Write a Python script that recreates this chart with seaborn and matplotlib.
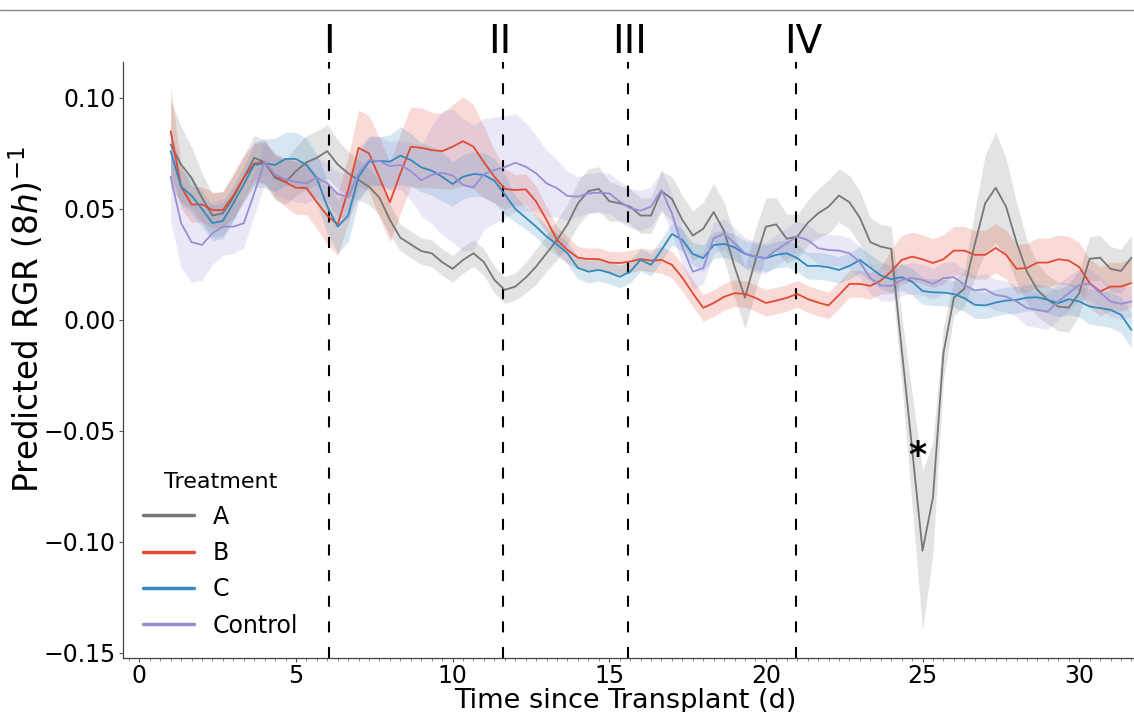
import numpy as np
import pandas as pd
import matplotlib
matplotlib.use("Agg")
import matplotlib.pyplot as plt
import seaborn as sns
from matplotlib.lines import Line2D
from matplotlib.ticker import MultipleLocator

sns.set_style("ticks")
plt.rcParams["font.family"] = ["DejaVu Sans"]
plt.rcParams["text.color"] = "black"
plt.rcParams["axes.labelcolor"] = "black"
plt.rcParams["xtick.color"] = "black"
plt.rcParams["ytick.color"] = "black"

# ---------------- data ----------------
treatments = ["A", "B", "C", "Control"]
colors = ["#777777", "#E24A33", "#348ABD", "#988ED5"]

n_points = 93
time_d = 1 + np.arange(n_points) / 3.0          # 8-hourly samples (days)

rgr_A = [0.079, 0.070, 0.064, 0.055, 0.047, 0.048, 0.055, 0.064, 0.073, 0.071,
         0.064, 0.062, 0.067, 0.071, 0.073, 0.076, 0.070, 0.066, 0.063, 0.060,
         0.055, 0.045, 0.037, 0.034, 0.031, 0.030, 0.026, 0.023, 0.027, 0.030,
         0.026, 0.018, 0.0135, 0.015, 0.019, 0.024, 0.030, 0.036, 0.043, 0.0525,
         0.058, 0.059, 0.0535, 0.0525, 0.051, 0.047, 0.047, 0.058, 0.0545, 0.045,
         0.038, 0.041, 0.0486, 0.040, 0.024, 0.010, 0.027, 0.042, 0.043, 0.0365,
         0.0375, 0.0437, 0.048, 0.051, 0.056, 0.053, 0.046, 0.035, 0.033, 0.032,
         -0.013, -0.058, -0.104, -0.080, -0.015, 0.010, 0.014, 0.034, 0.0525, 0.0595,
         0.051, 0.035, 0.0216, 0.0135, 0.009, 0.006, 0.0055, 0.012, 0.0275, 0.028,
         0.023, 0.022, 0.028]
err_A = [0.020, 0.017, 0.014, 0.011, 0.010, 0.010, 0.010, 0.010, 0.010, 0.010,
         0.010, 0.010, 0.011, 0.012, 0.012, 0.012, 0.011, 0.010, 0.009, 0.008,
         0.008, 0.007, 0.006, 0.006, 0.006, 0.006, 0.006, 0.006, 0.006, 0.006,
         0.006, 0.006, 0.006, 0.006, 0.007, 0.008, 0.008, 0.009, 0.009, 0.010,
         0.010, 0.010, 0.009, 0.008, 0.008, 0.008, 0.008, 0.009, 0.010, 0.011,
         0.011, 0.012, 0.013, 0.013, 0.014, 0.014, 0.014, 0.013, 0.012, 0.011,
         0.010, 0.010, 0.011, 0.012, 0.012, 0.012, 0.012, 0.011, 0.010, 0.010,
         0.015, 0.025, 0.036, 0.025, 0.012, 0.008, 0.008, 0.015, 0.022, 0.025,
         0.022, 0.018, 0.014, 0.012, 0.011, 0.011, 0.011, 0.010, 0.010, 0.010,
         0.010, 0.010, 0.010]

rgr_B = [0.085, 0.060, 0.052, 0.052, 0.0495, 0.0495, 0.056, 0.064, 0.0705, 0.071,
         0.065, 0.062, 0.0595, 0.0595, 0.053, 0.047, 0.043, 0.0585, 0.0775, 0.075,
         0.064, 0.053, 0.066, 0.078, 0.0775, 0.0765, 0.076, 0.078, 0.0805, 0.078,
         0.071, 0.0645, 0.059, 0.0585, 0.0588, 0.0533, 0.045, 0.036, 0.0315, 0.028,
         0.0274, 0.0274, 0.0258, 0.0256, 0.0263, 0.0274, 0.0267, 0.027, 0.0248, 0.019,
         0.012, 0.0054, 0.0076, 0.0104, 0.012, 0.0117, 0.0099, 0.0076, 0.0087, 0.0099,
         0.0117, 0.0094, 0.0078, 0.0065, 0.0112, 0.0162, 0.0162, 0.0153, 0.0177, 0.0218,
         0.027, 0.0285, 0.0273, 0.0256, 0.0273, 0.0312, 0.0312, 0.0293, 0.0293, 0.0324,
         0.0293, 0.023, 0.0234, 0.0258, 0.0258, 0.0273, 0.0267, 0.0238, 0.0166, 0.0128,
         0.015, 0.015, 0.0166]
err_B = [0.020, 0.010, 0.008, 0.008, 0.008, 0.008, 0.010, 0.010, 0.009, 0.009,
         0.010, 0.011, 0.012, 0.012, 0.012, 0.013, 0.014, 0.015, 0.017, 0.017,
         0.018, 0.018, 0.018, 0.018, 0.018, 0.017, 0.017, 0.019, 0.020, 0.019,
         0.016, 0.012, 0.009, 0.007, 0.007, 0.007, 0.006, 0.006, 0.006, 0.005,
         0.005, 0.005, 0.005, 0.005, 0.005, 0.005, 0.005, 0.006, 0.006, 0.006,
         0.006, 0.006, 0.006, 0.006, 0.006, 0.006, 0.006, 0.006, 0.006, 0.006,
         0.006, 0.006, 0.006, 0.006, 0.006, 0.006, 0.006, 0.006, 0.006, 0.010,
         0.011, 0.011, 0.011, 0.011, 0.011, 0.011, 0.011, 0.011, 0.011, 0.011,
         0.011, 0.011, 0.011, 0.011, 0.011, 0.011, 0.011, 0.011, 0.011, 0.011,
         0.011, 0.011, 0.011]

rgr_C = [0.076, 0.060, 0.056, 0.050, 0.0436, 0.0446, 0.0525, 0.061, 0.0698, 0.0705,
         0.0698, 0.0725, 0.0725, 0.0698, 0.0638, 0.051, 0.042, 0.047, 0.0645, 0.0713,
         0.0716, 0.0713, 0.074, 0.072, 0.0687, 0.0672, 0.0645, 0.0612, 0.0645, 0.0657,
         0.0653, 0.0627, 0.0565, 0.050, 0.046, 0.042, 0.0375, 0.034, 0.030, 0.0234,
         0.0217, 0.0225, 0.0213, 0.0194, 0.0217, 0.027, 0.0248, 0.0315, 0.0387, 0.036,
         0.0297, 0.0278, 0.0337, 0.0342, 0.0327, 0.0297, 0.0285, 0.0278, 0.0293, 0.030,
         0.0278, 0.0243, 0.0243, 0.0237, 0.0225, 0.0243, 0.027, 0.0235, 0.020, 0.0183,
         0.0192, 0.0172, 0.013, 0.0124, 0.0123, 0.0116, 0.0098, 0.0068, 0.0065, 0.0078,
         0.0087, 0.009, 0.010, 0.0102, 0.009, 0.0075, 0.0093, 0.0083, 0.006, 0.0053,
         0.0045, 0.0023, -0.0045]
err_C = [0.010, 0.008, 0.008, 0.008, 0.008, 0.008, 0.008, 0.008, 0.010, 0.011,
         0.012, 0.012, 0.012, 0.012, 0.011, 0.012, 0.012, 0.012, 0.011, 0.011,
         0.011, 0.012, 0.013, 0.012, 0.011, 0.011, 0.011, 0.010, 0.010, 0.010,
         0.010, 0.010, 0.009, 0.006, 0.005, 0.005, 0.005, 0.005, 0.005, 0.005,
         0.005, 0.005, 0.005, 0.005, 0.005, 0.005, 0.005, 0.005, 0.005, 0.005,
         0.005, 0.006, 0.006, 0.006, 0.006, 0.006, 0.006, 0.006, 0.006, 0.006,
         0.006, 0.006, 0.006, 0.006, 0.006, 0.006, 0.006, 0.006, 0.006, 0.006,
         0.006, 0.006, 0.006, 0.006, 0.006, 0.006, 0.006, 0.006, 0.006, 0.006,
         0.006, 0.006, 0.006, 0.006, 0.006, 0.006, 0.007, 0.007, 0.008, 0.008,
         0.008, 0.008, 0.008]

rgr_Control = [0.0645, 0.0436, 0.035, 0.0338, 0.039, 0.042, 0.042, 0.0435, 0.057, 0.0713,
               0.0653, 0.0633, 0.0622, 0.0615, 0.0642, 0.0615, 0.0567, 0.0553, 0.066, 0.072,
               0.0715, 0.0693, 0.0698, 0.067, 0.0629, 0.0653, 0.0663, 0.065, 0.0608, 0.0597,
               0.0657, 0.0675, 0.0688, 0.0708, 0.069, 0.066, 0.0615, 0.0593, 0.0558, 0.0555,
               0.057, 0.0573, 0.057, 0.0533, 0.0503, 0.0492, 0.051, 0.0585, 0.048, 0.033,
               0.0217, 0.0233, 0.0368, 0.0388, 0.0345, 0.030, 0.0285, 0.0278, 0.0315, 0.0345,
               0.0375, 0.036, 0.0323, 0.0315, 0.0312, 0.030, 0.026, 0.0188, 0.0155, 0.0153,
               0.018, 0.0188, 0.018, 0.0162, 0.0188, 0.0192, 0.0158, 0.0132, 0.0138, 0.0112,
               0.0105, 0.0083, 0.0053, 0.0045, 0.0037, 0.0083, 0.012, 0.0158, 0.0162, 0.0123,
               0.0083, 0.0072, 0.0083]
err_Control = [0.020, 0.020, 0.018, 0.016, 0.014, 0.013, 0.012, 0.011, 0.010, 0.010,
               0.009, 0.009, 0.009, 0.009, 0.009, 0.009, 0.010, 0.010, 0.011, 0.011,
               0.011, 0.011, 0.011, 0.013, 0.016, 0.022, 0.028, 0.030, 0.030, 0.028,
               0.025, 0.024, 0.023, 0.022, 0.020, 0.017, 0.015, 0.013, 0.011, 0.009,
               0.009, 0.009, 0.009, 0.009, 0.009, 0.009, 0.009, 0.009, 0.009, 0.008,
               0.008, 0.007, 0.007, 0.007, 0.007, 0.007, 0.007, 0.007, 0.007, 0.007,
               0.007, 0.007, 0.007, 0.007, 0.007, 0.007, 0.007, 0.007, 0.007, 0.007,
               0.007, 0.007, 0.007, 0.007, 0.007, 0.007, 0.007, 0.007, 0.007, 0.007,
               0.007, 0.007, 0.008, 0.008, 0.008, 0.008, 0.008, 0.007, 0.007, 0.007,
               0.007, 0.007, 0.007]

phase_days = [6.05, 11.6, 15.6, 20.95]
phase_labels = ["I", "II", "III", "IV"]

x_ticks = [0, 5, 10, 15, 20, 25, 30]
y_ticks = [-0.15, -0.10, -0.05, 0.00, 0.05, 0.10]

# ---------------- build table ----------------
series = {"A": (rgr_A, err_A), "B": (rgr_B, err_B),
          "C": (rgr_C, err_C), "Control": (rgr_Control, err_Control)}
frames = []
for name in treatments:
    vals, errs = series[name]
    frames.append(pd.DataFrame({"time": time_d, "rgr": vals, "err": errs,
                                "Treatment": name}))
df = pd.concat(frames, ignore_index=True)
palette = dict(zip(treatments, colors))

# ---------------- figure ----------------
fig = plt.figure(figsize=(11.34, 7.12), dpi=100)
ax = fig.add_axes([0.1082, 0.0754, 0.8918, 0.8379])

for name in treatments:
    sub = df[df["Treatment"] == name]
    ax.fill_between(sub["time"], sub["rgr"] - sub["err"], sub["rgr"] + sub["err"],
                    color=palette[name], alpha=0.2, linewidth=0, zorder=1)

sns.lineplot(data=df, x="time", y="rgr", hue="Treatment", hue_order=treatments,
             palette=palette, linewidth=1.3, errorbar=None, ax=ax, legend=False,
             zorder=3)

for xd in phase_days:
    ax.axvline(xd, color="black", linewidth=1.5, linestyle=(0, (5.3, 7)), zorder=2)

label_x = [6.06, 11.51, 15.66, 21.18]
for xl, lab in zip(label_x, phase_labels):
    ax.text(xl, 1.015, lab, transform=ax.get_xaxis_transform(), ha="center",
            va="baseline", fontsize=28, color="black", clip_on=False)

ax.text(24.85, -0.066, "*", ha="center", va="baseline", fontsize=25,
        fontweight="bold", color="black")

ax.set_xlim(-0.53, 31.75)
ax.set_ylim(-0.1525, 0.1163)
ax.set_xticks(x_ticks)
ax.set_yticks(y_ticks)
ax.set_yticklabels([f"{v:.2f}".replace("-", "\u2212") for v in y_ticks])
ax.xaxis.set_minor_locator(MultipleLocator(1 / 3))
ax.tick_params(axis="both", which="major", labelsize=17, length=3, width=0.8,
               color="#555555", labelcolor="black", pad=2)
ax.tick_params(axis="x", which="major", pad=1)
ax.tick_params(axis="x", which="minor", length=2, width=0.6, color="#777777")

sns.despine(ax=ax)
for sp in ["left", "bottom"]:
    ax.spines[sp].set_color("#444444")
    ax.spines[sp].set_linewidth(0.9)

ax.set_xlabel("Time since Transplant (d)", fontsize=19.5, color="black")
ax.set_ylabel("Predicted RGR (8$h$)$^{-1}$", fontsize=23.5, color="black")
ax.xaxis.set_label_coords(0.497, -0.05)
ax.yaxis.set_label_coords(-0.076, 0.567)

handles = [Line2D([0], [0], color=c, linewidth=2.5) for c in colors]
leg = ax.legend(handles, treatments, title="Treatment", frameon=False, fontsize=17,
                title_fontsize=16, loc="lower left", bbox_to_anchor=(0.0105, 0.019),
                borderaxespad=0, handlelength=2.15, labelspacing=0.52,
                handletextpad=0.8)
for t in leg.get_texts():
    t.set_color("black")
leg.get_title().set_color("black")

fig.add_artist(Line2D([0, 1], [1 - 9.5 / 712, 1 - 9.5 / 712], transform=fig.transFigure,
                      color="#888888", linewidth=1.0))

fig.savefig("out.png", dpi=100)
